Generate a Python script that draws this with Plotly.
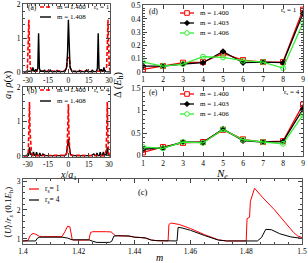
import plotly.graph_objects as go

# ---------------- Panel (a): r_s = 1 ----------------
xa_m1400 = [-33, -31, -30.2, -29.6, -29.2, -28.8, -28.2, -27, -24, -20, -17, -14, -11, -8, -5, -3,
            -1.5, -0.8, 0, 0.8, 1.5, 3, 5, 8, 11, 14, 17, 20, 24, 27, 28.2, 28.8, 29.2, 29.6, 30.2, 31, 33]
ya_m1400 = [0, 0.01, 0.15, 0.9, 1.55, 0.9, 0.15, 0.04, 0.02, 0.03, 0.01, 0.05, 0.02, 0.04, 0.01, 0.03,
            0.1, 0.38, 0.42, 0.38, 0.1, 0.03, 0.01, 0.04, 0.02, 0.05, 0.01, 0.03, 0.02, 0.04, 0.15, 0.9, 1.55, 0.9, 0.15, 0.01, 0]
xa_m1408 = [-33, -28, -26.8, -26.2, -25.6, -24.8, -24.2, -23.5, -22.6, -22.0, -21.4, -20.6, -19.5, -18.2,
            -17.6, -17, -14, -13.3, -12.6, -9, -8.4, -7.8, -5, -2.5, -1.2, -0.6, 0, 0.6, 1.2, 2.5, 5, 7.8, 8.4, 9,
            12.6, 13.3, 14, 17, 17.6, 18.2, 19.5, 20.6, 21.4, 22.0, 22.6, 23.5, 24.2, 24.8, 25.6, 26.2, 26.8, 28, 33]
ya_m1408 = [0, 0.01, 0.03, 0.14, 0.03, 0.02, 0.08, 0.02, 0.1, 1.15, 0.1, 0.02, 0.01, 0.02,
            0.06, 0.01, 0.01, 0.05, 0.01, 0.01, 0.04, 0.01, 0.01, 0.02, 0.15, 0.6, 1.55, 0.6, 0.15, 0.02, 0.01, 0.01, 0.04, 0.01,
            0.01, 0.05, 0.01, 0.01, 0.06, 0.02, 0.01, 0.02, 0.1, 1.15, 0.1, 0.02, 0.08, 0.02, 0.03, 0.14, 0.03, 0.01, 0]

# ---------------- Panel (b): r_s = 4 ----------------
xb_m1400 = [-33, -30.5, -29.6, -29.1, -28.7, -28.3, -27.8, -27.2, -26, -20, -10, -2, -1, -0.4, 0, 0.4, 1, 2,
            10, 20, 26, 27.2, 27.8, 28.3, 28.7, 29.1, 29.6, 30.5, 33]
yb_m1400 = [0, 0.01, 0.1, 0.7, 1.58, 0.7, 0.15, 0.08, 0.01, 0.01, 0.01, 0.02, 0.12, 0.7, 1.52, 0.7, 0.12, 0.02,
            0.01, 0.01, 0.01, 0.08, 0.15, 0.7, 1.58, 0.7, 0.1, 0.01, 0]
xb_m1408 = [-33, -29.5, -28.7, -28, -26.5, -25.8, -25.1, -24.2, -23.5, -22.8, -21.8, -21.1, -20.4, -19.5, -18.8,
            -17, -3, -1.5, -0.6, 0, 0.6, 1.5, 3, 17, 18.8, 19.5, 20.4, 21.1, 21.8, 22.8, 23.5, 24.2, 25.1,
            25.8, 26.5, 28, 28.7, 29.5, 33]
yb_m1408 = [0, 0.02, 0.25, 0.05, 0.02, 0.12, 0.02, 0.01, 0.11, 0.01, 0.01, 0.09, 0.01, 0.01, 0.06,
            0.01, 0.01, 0.05, 0.3, 0.5, 0.3, 0.05, 0.01, 0.01, 0.06, 0.01, 0.01, 0.09, 0.01, 0.01, 0.11, 0.01, 0.02,
            0.12, 0.02, 0.05, 0.25, 0.02, 0]

# ---------------- Panels (d) and (e) ----------------
ne = [1, 2, 3, 4, 5, 6, 7, 8, 9]
d_m1400 = [0.02, 0.045, 0.07, 0.075, 0.14, 0.09, 0.075, 0.075, 0.47]
d_m1403 = [0.045, 0.045, 0.06, 0.07, 0.155, 0.07, 0.075, 0.07, 0.44]
d_m1406 = [0.075, 0.045, 0.06, 0.115, 0.11, 0.085, 0.075, 0.03, 0.37]
e_m1400 = [0.07, 0.19, 0.28, 0.3, 0.57, 0.36, 0.3, 0.32, 1.13]
e_m1403 = [0.14, 0.17, 0.3, 0.29, 0.59, 0.33, 0.3, 0.31, 1.03]
e_m1406 = [0.19, 0.16, 0.3, 0.28, 0.58, 0.35, 0.3, 0.26, 0.9]

# ---------------- Panel (c) ----------------
m_rs1 = [1.4000, 1.4018, 1.4026, 1.4036, 1.4046, 1.4058, 1.4070, 1.4100, 1.4140, 1.4150, 1.4160, 1.4168,
         1.4176, 1.4180, 1.4236, 1.4242, 1.4250, 1.4300, 1.4316, 1.4330, 1.4340, 1.4380, 1.4400, 1.4420,
         1.4440, 1.4460, 1.4480, 1.4520, 1.4523, 1.4530, 1.4560, 1.4600, 1.4650, 1.4700, 1.4730, 1.4800,
         1.4803, 1.4812, 1.4815, 1.4830, 1.4860, 1.4900, 1.4940, 1.4970, 1.4985, 1.5000]
u_rs1 = [0.93, 0.95, 1.12, 1.19, 1.16, 1.09, 1.08, 1.08, 1.08, 1.25, 1.44, 1.42,
         1.00, 0.96, 0.96, 1.22, 1.25, 1.25, 1.24, 1.12, 1.11, 1.10, 1.06, 1.05,
         1.03, 0.96, 0.94, 0.93, 1.50, 1.55, 1.50, 1.36, 1.15, 0.97, 0.93, 0.93,
         1.70, 1.75, 2.30, 2.75, 2.42, 2.02, 1.58, 1.22, 1.10, 1.05]
m_rs4 = [1.4000, 1.4045, 1.4052, 1.4060, 1.4140, 1.4160, 1.4176, 1.4236, 1.4250, 1.4265, 1.4310, 1.4318,
         1.4326, 1.4340, 1.4380, 1.4400, 1.4420, 1.4440, 1.4460, 1.4480, 1.4552, 1.4556, 1.4570, 1.4600,
         1.4650, 1.4700, 1.4730, 1.4840, 1.4855, 1.4870, 1.4890, 1.4920, 1.4960, 1.5000]
u_rs4 = [0.93, 0.93, 1.03, 1.06, 1.06, 1.03, 0.97, 0.97, 0.92, 0.88, 0.88, 0.92,
         1.10, 1.11, 1.10, 1.06, 1.05, 1.03, 0.96, 0.94, 0.93, 1.40, 1.38, 1.30,
         1.12, 0.96, 0.93, 0.93, 1.05, 1.33, 1.32, 1.18, 1.07, 1.02]

W, H = 308, 263
SERIF = "Liberation Serif"
RED, BLACK, GREEN = "#ff0000", "#000000", "#33ee33"
DASH = "4px,2px"

def px(x):
    return x / W

def py(y):
    return 1 - y / H

fig = go.Figure()

def line_trace(x, y, name, color, width, xa, ya, dash="solid", marker=None):
    kw = dict(x=x, y=y, name=name, mode="lines+markers" if marker else "lines",
              line=dict(color=color, width=width, dash=dash), xaxis=xa, yaxis=ya, showlegend=False)
    if marker:
        kw["marker"] = marker
    fig.add_trace(go.Scatter(**kw))

SQ = dict(symbol="square-open", size=5, color=RED, line=dict(width=1))
DI = dict(symbol="diamond", size=5, color=BLACK)
CI = dict(symbol="circle-open", size=5, color=GREEN, line=dict(width=1))

# (a)
line_trace(xa_m1400, ya_m1400, "m = 1.400", RED, 1.6, "x", "y", DASH)
line_trace(xa_m1408, ya_m1408, "m = 1.408", BLACK, 1.4, "x", "y")
# (b)
line_trace(xb_m1408, yb_m1408, "m = 1.408", BLACK, 1.4, "x2", "y2")
line_trace(xb_m1400, yb_m1400, "m = 1.400", RED, 1.6, "x2", "y2", DASH)
# (d)
line_trace(ne, d_m1400, "m = 1.400", RED, 1.3, "x3", "y3", marker=SQ)
line_trace(ne, d_m1403, "m = 1.403", BLACK, 1.3, "x3", "y3", marker=DI)
line_trace(ne, d_m1406, "m = 1.406", GREEN, 1.3, "x3", "y3", marker=CI)
# (e)
line_trace(ne, e_m1400, "m = 1.400", RED, 1.3, "x4", "y4", marker=SQ)
line_trace(ne, e_m1403, "m = 1.403", BLACK, 1.3, "x4", "y4", marker=DI)
line_trace(ne, e_m1406, "m = 1.406", GREEN, 1.3, "x4", "y4", marker=CI)
# (c)
line_trace(m_rs1, u_rs1, "r_s = 1", RED, 1, "x5", "y5")
line_trace(m_rs4, u_rs4, "r_s = 4", BLACK, 1, "x5", "y5")

tickfont = dict(family=SERIF, size=7.5, color="black")

def ax(domain, rng, dtick, minor_dtick, **kw):
    d = dict(domain=domain, range=rng, dtick=dtick, tick0=0, ticks="inside", ticklen=4, tickwidth=0.8,
             tickcolor="#444", showline=True, linecolor="#555", linewidth=0.8, mirror="allticks",
             showgrid=False, zeroline=False, tickfont=tickfont,
             minor=dict(dtick=minor_dtick, ticks="inside", ticklen=2, tickwidth=0.6, tickcolor="#444", showgrid=False))
    d.update(kw)
    return d

xa_dom = [px(23), px(110)]
fig.update_layout(
    width=W, height=H, margin=dict(l=0, r=0, t=0, b=0, autoexpand=False),
    paper_bgcolor="white", plot_bgcolor="white", showlegend=False,
    font=dict(family=SERIF, size=8, color="black"),
    xaxis=ax(xa_dom, [-33.5, 30.7], 15, 3, anchor="y", tickvals=[-30, -15, 0, 15, 30],
             ticktext=["-30", "-15", "0", "15", "30"]),
    yaxis=ax([py(73), py(4)], [-0.03, 2.02], 1, 0.2, anchor="x"),
    xaxis2=ax(xa_dom, [-33.5, 30.7], 15, 3, anchor="y2", tickvals=[-30, -15, 0, 15, 30],
              ticktext=["-30", "-15", "0", "15", "30"]),
    yaxis2=ax([py(157), py(87)], [-0.03, 2.02], 1, 0.2, anchor="x2"),
    xaxis3=ax([px(143), px(303)], [1, 9], 1, 1, anchor="y3"),
    yaxis3=ax([py(72), py(5)], [0, 0.505], 0.1, 0.02, anchor="x3"),
    xaxis4=ax([px(143), px(303)], [1, 9], 1, 1, anchor="y4"),
    yaxis4=ax([py(156), py(87)], [-0.01, 1.52], 0.5, 0.1, anchor="x4"),
    xaxis5=ax([px(23), px(302)], [1.4, 1.5], 0.02, 0.005, anchor="y5", tick0=1.4,
              tickvals=[1.4, 1.42, 1.44, 1.46, 1.48, 1.5], ticktext=["1.4", "1.42", "1.44", "1.46", "1.48", "1.5"]),
    yaxis5=ax([py(244), py(179)], [0.825, 3.07], 1, 0.2, anchor="x5"),
)

ann = []
shapes = []

def label(x, y, text, size=7.5, angle=0, xanchor="center"):
    ann.append(dict(x=px(x), y=py(y), xref="paper", yref="paper", text=text, showarrow=False,
                    font=dict(family=SERIF, size=size, color="black"), textangle=angle,
                    xanchor=xanchor, yanchor="middle"))

def legend_entry(x0, x1, y, color, width, text, dash="solid", marker=None, size=7):
    shapes.append(dict(type="line", xref="paper", yref="paper", x0=px(x0), x1=px(x1), y0=py(y), y1=py(y),
                       line=dict(color=color, width=width, dash=dash)))
    xc = (x0 + x1) / 2
    r = 2.3
    if marker == "square":
        shapes.append(dict(type="rect", xref="paper", yref="paper", x0=px(xc - r), x1=px(xc + r),
                           y0=py(y + r), y1=py(y - r), line=dict(color=color, width=1), fillcolor="white"))
    elif marker == "circle":
        shapes.append(dict(type="circle", xref="paper", yref="paper", x0=px(xc - r), x1=px(xc + r),
                           y0=py(y + r), y1=py(y - r), line=dict(color=color, width=1), fillcolor="white"))
    elif marker == "diamond":
        shapes.append(dict(type="path", xref="paper", yref="paper",
                           path=f"M {px(xc)},{py(y - 2.8)} L {px(xc + 2.8)},{py(y)} L {px(xc)},{py(y + 2.8)} L {px(xc - 2.8)},{py(y)} Z",
                           line=dict(color=color, width=0.5), fillcolor=color))
    label(x1 + 4, y, text, size=size, xanchor="left")

# legends
legend_entry(40, 51, 7, RED, 1.6, "m = 1.400", dash=DASH)
legend_entry(40, 51, 17, BLACK, 1.4, "m = 1.408")
legend_entry(40, 51, 90, RED, 1.6, "m = 1.400", dash=DASH)
legend_entry(40, 51, 101, BLACK, 1.4, "m = 1.408")
legend_entry(180, 194, 13, RED, 1.3, "m = 1.400", marker="square")
legend_entry(180, 194, 23, BLACK, 1.3, "m = 1.403", marker="diamond")
legend_entry(180, 194, 33, GREEN, 1.3, "m = 1.406", marker="circle")
legend_entry(180, 194, 94, RED, 1.3, "m = 1.400", marker="square")
legend_entry(180, 194, 104, BLACK, 1.3, "m = 1.403", marker="diamond")
legend_entry(180, 194, 114, GREEN, 1.3, "m = 1.406", marker="circle")
legend_entry(29, 39, 189, RED, 1.2, "r<sub>s</sub>= 1", size=7.5)
legend_entry(29, 39, 200, BLACK, 1.2, "r<sub>s</sub>= 4", size=7.5)

label(32, 7, "(a)")
label(102, 7, "r<sub>s</sub> = 1", size=7)
label(32, 90, "(b)")
label(102, 90, "r<sub>s</sub> = 4", size=7)
label(153, 11, "(d)")
label(289, 10, "r<sub>s</sub> = 1", size=7)
label(153, 92, "(e)")
label(292, 92, "r<sub>s</sub> = 4", size=7)
label(143, 192, "(c)", size=8.5)
label(8, 85, "<i>a</i><sub>1</sub> <i>ρ</i>(<i>x</i>)", size=10.5, angle=-90)
label(68, 175, "<i>x</i>/<i>a</i><sub>1</sub>", size=10)
label(118, 85, "Δ (<i>E</i><sub>h</sub>)", size=10.5, angle=-90)
label(222, 174, "<i>N<sub>e</sub></i>", size=11)
label(8, 213, "⟨<i>U</i>⟩/<i>r<sub>s</sub></i> (0.1<i>E</i><sub>h</sub>)", size=9, angle=-90)
label(160, 257, "<i>m</i>", size=10)
fig.update_layout(annotations=ann, shapes=shapes)

fig.write_html("out.html", config={"displayModeBar": False},
               post_script="document.body.style.margin='0';document.body.style.padding='0';document.documentElement.style.overflow='hidden';")
